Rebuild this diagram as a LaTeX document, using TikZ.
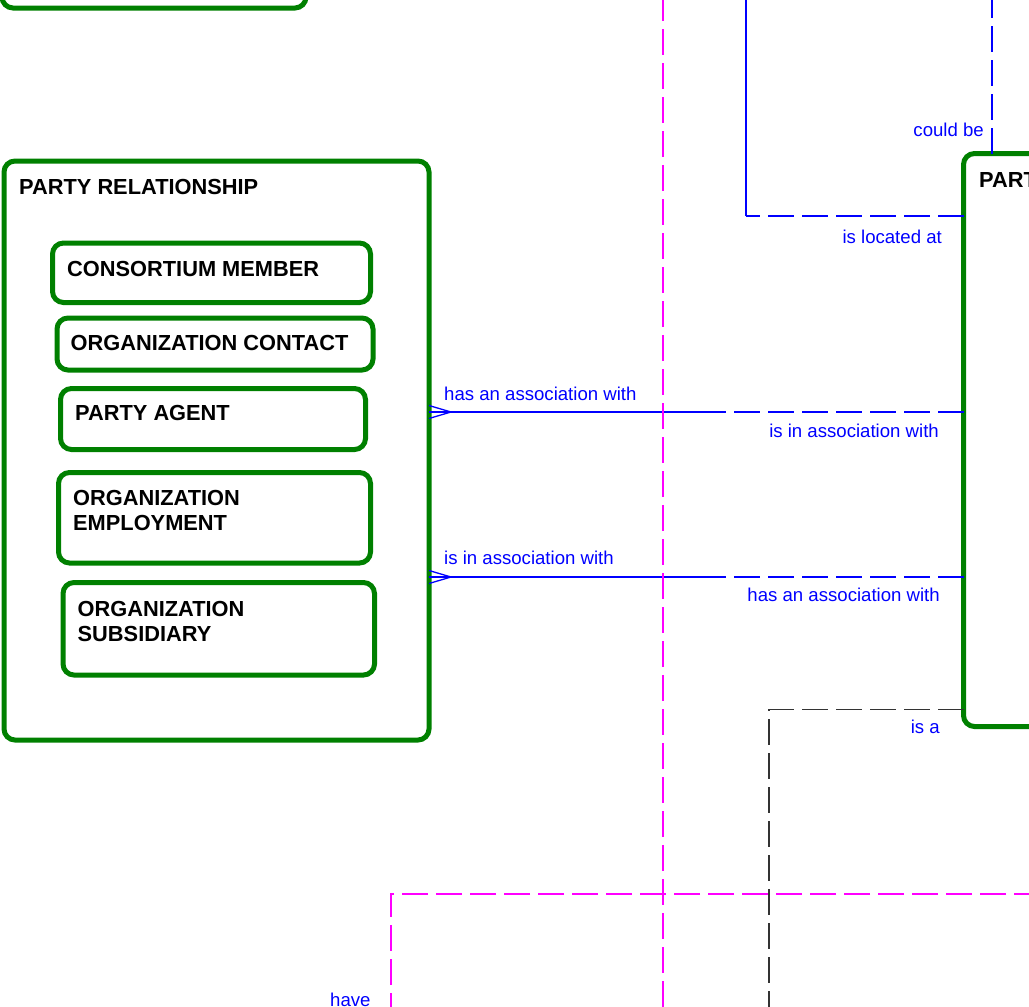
\documentclass[tikz,border=0pt]{standalone}
\usepackage{fontspec}
\setmainfont{Liberation Sans}
\usepackage{tikz}
\usetikzlibrary{positioning,calc}
\definecolor{entgreen}{RGB}{0,128,0}
\definecolor{areamagenta}{RGB}{255,0,255}
\definecolor{relblue}{RGB}{0,0,255}

% crow's foot at the many end of a relationship
\newcommand{\crowfoot}[1]{%
  \draw[rel] ($(#1)+(22,0)$) -- ($(#1)+(0,-6.5)$);
  \draw[rel] ($(#1)+(22,0)$) -- ($(#1)+(0,6.5)$);}

\begin{document}
\begin{tikzpicture}[x=1pt,y=-1pt,
    entity/.style={draw=entgreen, line width=5pt, rounded corners=11pt, anchor=north west, inner sep=0pt, outer sep=0pt},
    ename/.style={font=\fontsize{21.8}{25}\selectfont\bfseries, align=left, inner sep=0pt},
    rel/.style={draw=relblue, line width=1.3pt},
    reldash/.style={rel, dash pattern=on 26pt off 8pt},
    rlabel/.style={text=relblue, font=\fontsize{18.6}{22}\selectfont, inner sep=0pt},
    area/.style={draw=areamagenta, line width=1.3pt, dash pattern=on 26pt off 8pt},
    subtype/.style={draw=black!80, line width=1.3pt, dash pattern=on 26pt off 8pt}]
    \useasboundingbox (0,0) rectangle (1029,1007);
    \clip (0,0) rectangle (1029,1007);

    % entities
    \node[entity, anchor=south west, minimum width=304pt, minimum height=200pt] (prev) at (2,8) {};
    \node[entity, minimum width=425pt, minimum height=579pt] (pr) at (4,161) {};
    \node[ename, below right=18pt and 15pt of pr.north west] (pr-name) {PARTY RELATIONSHIP};
    \node[entity, minimum width=318pt, minimum height=59.5pt] (cm) at (52.5,243) {};
    \node[ename, below right=18pt and 14.5pt of cm.north west] (cm-name) {CONSORTIUM MEMBER};
    \node[entity, minimum width=316pt, minimum height=52pt] (oc) at (57,318) {};
    \node[ename, below right=17pt and 13.5pt of oc.north west] (oc-name) {ORGANIZATION CONTACT};
    \node[entity, minimum width=305pt, minimum height=61pt] (pa) at (60.5,388.5) {};
    \node[ename, below right=17pt and 14.5pt of pa.north west] (pa-name) {PARTY AGENT};
    \node[entity, minimum width=312pt, minimum height=90.5pt] (oe) at (58.5,472.5) {};
    \node[ename, below right=17.5pt and 14.5pt of oe.north west] (oe-name) {ORGANIZATION\\EMPLOYMENT};
    \node[entity, minimum width=311.5pt, minimum height=92.5pt] (os) at (63,582.5) {};
    \node[ename, below right=18.5pt and 14.5pt of os.north west] (os-name) {ORGANIZATION\\SUBSIDIARY};
    \node[entity, minimum width=200pt, minimum height=573pt] (party) at (963.5,153.5) {};
    \node[ename, below right=19pt and 15.5pt of party.north west] (party-name) {PARTY};

    % levels and free ends
    \coordinate (y1) at (0,412);
    \coordinate (y2) at (0,577);
    \coordinate (yloc) at (0,216);
    \coordinate (yisa) at (0,709.5);
    \coordinate (locEnd) at (746,-5);
    \coordinate (cbEnd) at (992,-5);
    \coordinate (isaEnd) at (769,1015);

    % relationships
    \draw[rel] (pr.east |- y1) coordinate (r1a) -- ($(pr.east |- y1)!0.55!(party.west |- y1)$) coordinate (r1m);
    \draw[reldash] (party.west |- y1) -- (r1m);
    \crowfoot{r1a}
    \draw[rel] (pr.east |- y2) coordinate (r2a) -- ($(pr.east |- y2)!0.55!(party.west |- y2)$) coordinate (r2m);
    \draw[reldash] (party.west |- y2) -- (r2m);
    \crowfoot{r2a}
    \draw[reldash] (party.west |- yloc) -- (locEnd |- yloc);
    \draw[rel] (locEnd |- yloc) -- (locEnd);
    \draw[reldash] (party.north -| cbEnd) -- (cbEnd);
    \draw[subtype] (party.west |- yisa) -| (isaEnd);

    % subject area borders
    \draw[area] (663,-5) -- (663,1015);
    \draw[area] (1040,894) -| (391,1015);

    % labels
    \node[rlabel, anchor=base east] (lb-cb) at (984,136) {could be};
    \node[rlabel, anchor=base east] (lb-loc) at (942,243) {is located at};
    \node[rlabel, anchor=base west] (lb-r1a) at (444,400.5) {has an association with};
    \node[rlabel, anchor=base east] (lb-r1b) at (939,437) {is in association with};
    \node[rlabel, anchor=base west] (lb-r2a) at (444,564.5) {is in association with};
    \node[rlabel, anchor=base east] (lb-r2b) at (940,601.5) {has an association with};
    \node[rlabel, anchor=base east] (lb-isa) at (940,733.5) {is a};
    \node[rlabel, anchor=base west] (lb-have) at (330,1006.5) {have};
\end{tikzpicture}
\end{document}
